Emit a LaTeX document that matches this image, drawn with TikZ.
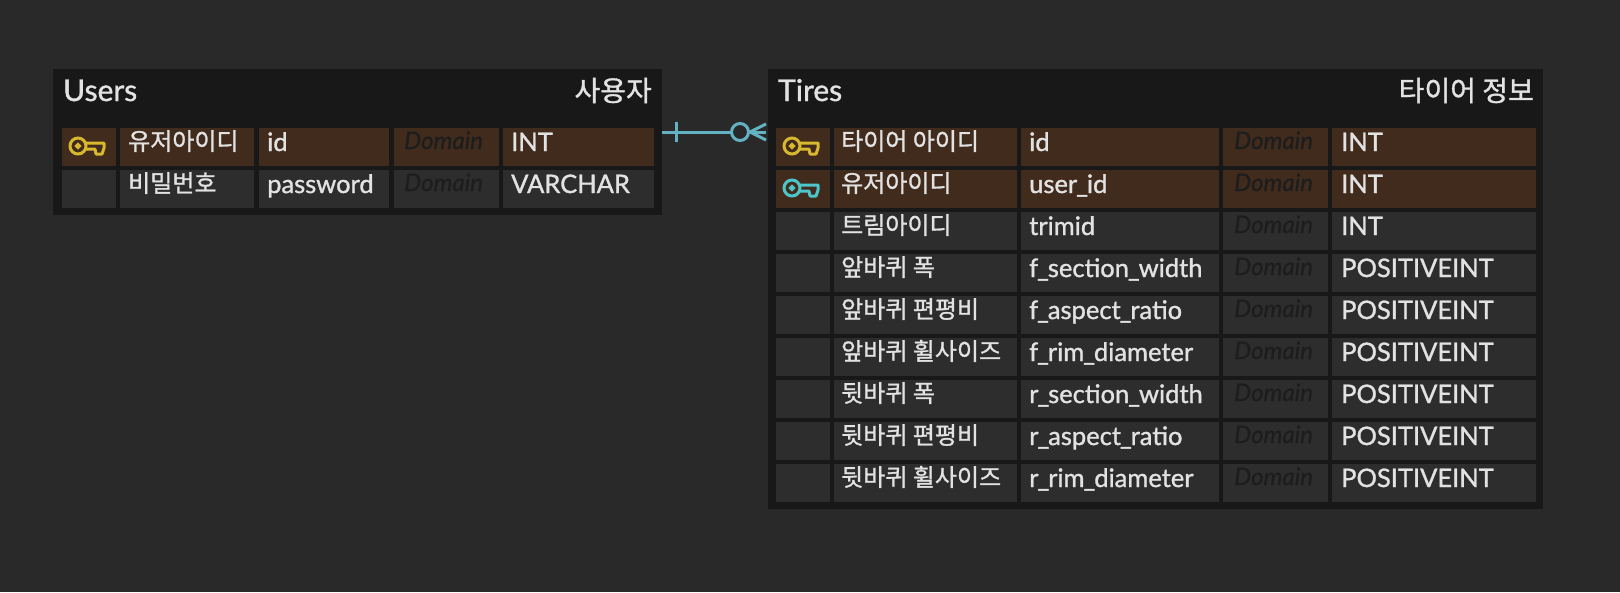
\documentclass[tikz,border=0pt]{standalone}
\usepackage{fontspec}
\setmainfont{Lato}
\newfontfamily\cjk{Noto Sans CJK KR}[FakeBold=1.2]
\usetikzlibrary{calc}
\definecolor{canvasgray}{HTML}{292929}
\definecolor{tabledark}{HTML}{181818}
\definecolor{cellgray}{HTML}{2D2D2D}
\definecolor{keybrown}{HTML}{412B1C}
\definecolor{lighttext}{HTML}{E2E2E2}
\definecolor{domaintext}{HTML}{1D1D1D}
\definecolor{relteal}{HTML}{62B2C2}
\definecolor{pkgold}{HTML}{D8B82E}
\definecolor{fkcyan}{HTML}{4CC6CA}
\newcommand{\usc}{\kern-1pt\_\kern-1pt}
\tikzset{
  keyicon/.pic={
    \draw[line width=3pt] (9,0) circle[radius=8] (9,0) circle[radius=1.5];
    \draw[line width=3pt, line join=round] (17,-3) -- (35,-3) -- (35,2) -- (33,8) -- (27,8)
      -- (26,3) -- (17,3);
  }
}
\begin{document}
\begin{tikzpicture}[
  x=1pt, y=-1pt,
  tablebox/.style={fill=tabledark, inner sep=0pt, anchor=north west},
  cell/.style={inner sep=0pt, anchor=north west, minimum height=38pt},
  plain/.style={cell, fill=cellgray},
  pk/.style={cell, fill=keybrown},
  title/.style={font=\fontsize{30}{34}\selectfont\addfontfeature{FakeBold=1.2}, text=lighttext, inner sep=0pt},
  titlekor/.style={font=\fontsize{28}{32}\selectfont\cjk, text=lighttext, inner sep=0pt},
  kor/.style={font=\fontsize{24}{28}\selectfont\cjk, text=lighttext, inner sep=0pt, anchor=base west},
  eng/.style={font=\fontsize{25.5}{30}\selectfont\addfontfeature{FakeBold=1.2}, text=lighttext, inner sep=0pt, anchor=base west},
  dom/.style={font=\fontsize{24}{28}\selectfont\itshape\addfontfeature{FakeBold=0.8}, text=domaintext, inner sep=0pt, anchor=base west},
  relline/.style={draw=relteal, line width=3pt}
]
\useasboundingbox (0,0) rectangle (1620,592);
\fill[canvasgray] (0,0) rectangle (1620,592);

% users table
\node[tablebox, minimum width=609pt, minimum height=146pt] (userstab) at (53,69) {};
\node[title, anchor=base west] (userstitle) at (63,101) {Users};
\node[titlekor, anchor=base east] (usersko) at (652,101) {사용자};
\foreach \r/\rowstyle/\ko/\en/\ty in {0/pk/유저아이디/id/INT, 1/plain/비밀번호/password/VARCHAR} {
  \node[\rowstyle, minimum width=54pt] (u\r a) at (62,128+\r*42) {};
  \node[\rowstyle, minimum width=134pt] (u\r b) at (120,128+\r*42) {};
  \node[\rowstyle, minimum width=130pt] (u\r c) at (259,128+\r*42) {};
  \node[\rowstyle, minimum width=105pt] (u\r d) at (394,128+\r*42) {};
  \node[\rowstyle, minimum width=151pt] (u\r e) at (503,128+\r*42) {};
  \node[kor] (u\r ko) at (128,150+\r*42) {\ko};
  \node[eng] (u\r en) at (267,151+\r*42) {\en};
  \node[dom] (u\r dom) at (404,149+\r*42) {Domain};
  \node[eng] (u\r ty) at (511,151+\r*42) {\ty};
}
\pic[color=pkgold] at (69,146) {keyicon};

% tires table
\node[tablebox, minimum width=775pt, minimum height=440pt] (tirestab) at (768,69) {};
\node[title, anchor=base west] (tirestitle) at (778,101) {Tires};
\node[titlekor, anchor=base east] (tiresko) at (1534,101) {타이어 정보};
\foreach \r/\rowstyle/\ko/\en/\ty in {
  0/pk/타이어 아이디/id/INT,
  1/pk/유저아이디/user\usc id/INT,
  2/plain/트림아이디/trimid/INT,
  3/plain/앞바퀴 폭/f\usc section\usc width/POSITIVEINT,
  4/plain/앞바퀴 편평비/f\usc aspect\usc ratio/POSITIVEINT,
  5/plain/앞바퀴 휠사이즈/f\usc rim\usc diameter/POSITIVEINT,
  6/plain/뒷바퀴 폭/r\usc section\usc width/POSITIVEINT,
  7/plain/뒷바퀴 편평비/r\usc aspect\usc ratio/POSITIVEINT,
  8/plain/뒷바퀴 휠사이즈/r\usc rim\usc diameter/POSITIVEINT} {
  \node[\rowstyle, minimum width=54pt] (t\r a) at (776,128+\r*42) {};
  \node[\rowstyle, minimum width=183pt] (t\r b) at (834,128+\r*42) {};
  \node[\rowstyle, minimum width=198pt] (t\r c) at (1021,128+\r*42) {};
  \node[\rowstyle, minimum width=105pt] (t\r d) at (1223,128+\r*42) {};
  \node[\rowstyle, minimum width=204pt] (t\r e) at (1332,128+\r*42) {};
  \node[kor] (t\r ko) at (841,150+\r*42) {\ko};
  \node[eng] (t\r en) at (1029,151+\r*42) {\en};
  \node[dom] (t\r dom) at (1234,149+\r*42) {Domain};
  \node[eng] (t\r ty) at (1341,151+\r*42) {\ty};
}
\pic[color=pkgold] at (783,146) {keyicon};
\pic[color=fkcyan] at (783,188) {keyicon};

% relation
\coordinate (relfrom) at ($(userstab.north east)+(0,63)$);
\coordinate (relto) at ($(tirestab.north west)+(-2,63)$);
\draw[relline] (relfrom) -- (relto);
\draw[relline] ($(relfrom)+(14,-10)$) -- ($(relfrom)+(14,10)$);
\node[circle, relline, fill=canvasgray, minimum size=17pt, inner sep=0pt] (relopt) at ($(relto)+(-26,0)$) {};
\draw[relline] (relopt.east) -- ($(relto)+(0,-8)$);
\draw[relline] (relopt.east) -- ($(relto)+(0,8)$);
\end{tikzpicture}
\end{document}
